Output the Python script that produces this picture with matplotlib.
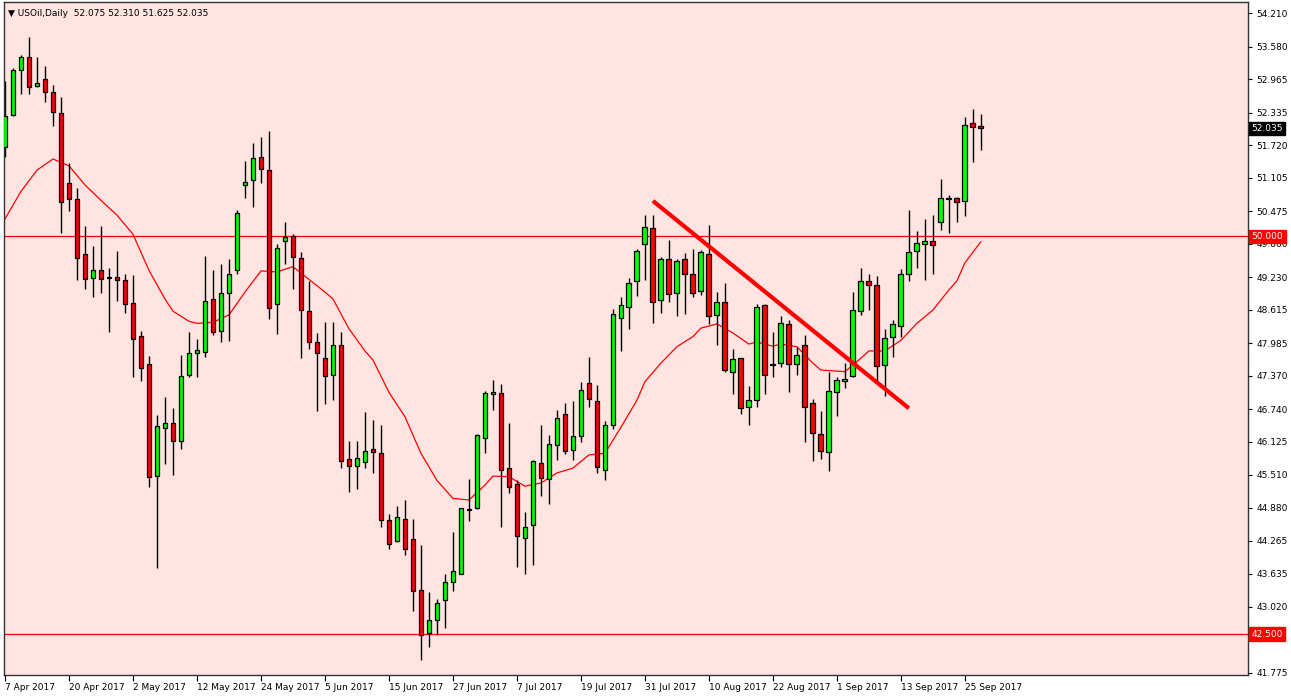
import matplotlib
matplotlib.use("Agg")
import matplotlib.pyplot as plt
import numpy as np

dates = ["7 Apr 2017","20 Apr 2017","2 May 2017","12 May 2017","24 May 2017","5 Jun 2017",
         "15 Jun 2017","27 Jun 2017","7 Jul 2017","19 Jul 2017","31 Jul 2017","10 Aug 2017",
         "22 Aug 2017","1 Sep 2017","13 Sep 2017","25 Sep 2017"]

opens = [51.69,52.29,53.13,53.39,52.83,52.96,52.73,52.32,51.00,50.70,49.66,49.21,49.36,49.23,49.24,49.17,
         48.75,48.13,47.59,45.49,46.38,46.48,46.15,47.38,47.80,47.82,48.82,48.22,48.94,49.37,50.96,51.06,
         51.49,51.26,48.73,49.92,50.01,49.60,48.60,48.01,47.70,47.39,47.96,45.81,45.67,45.75,46.00,45.92,
         44.65,44.25,44.68,44.30,43.34,42.53,42.76,43.14,43.48,43.64,44.85,44.87,46.19,47.02,47.04,45.64,
         45.34,44.32,44.55,45.72,45.42,46.06,46.66,45.98,46.23,47.23,46.89,45.59,46.45,48.47,48.66,49.15,
         49.85,50.15,48.81,49.57,48.94,49.57,49.30,48.98,49.66,48.51,48.76,47.45,47.70,46.79,46.91,48.70,
         47.57,47.62,48.34,47.60,47.96,46.85,46.28,45.93,47.06,47.27,47.36,48.59,49.15,49.08,47.57,48.10,
         48.32,49.30,49.72,49.85,49.91,50.28,50.71,50.72,50.66,52.13,52.075]
highs = [52.93,53.17,53.43,53.76,53.38,53.21,52.85,52.63,51.38,50.91,50.19,49.82,50.19,49.41,49.73,49.29,
         49.27,48.21,47.74,46.64,46.97,46.76,47.76,48.19,48.06,49.64,49.36,49.48,49.58,50.49,51.42,51.77,
         51.87,51.99,49.85,50.27,50.05,49.70,49.16,48.18,48.39,48.38,48.20,46.15,46.15,46.68,46.54,46.44,
         44.77,44.91,45.03,44.67,44.18,43.29,43.17,43.63,44.42,44.88,45.42,46.28,47.08,47.30,47.21,46.49,
         45.40,44.81,45.79,46.45,46.25,46.72,46.85,46.89,47.25,47.73,47.19,46.51,48.64,48.85,49.21,49.77,
         50.40,50.41,49.62,49.94,49.58,49.68,49.77,49.74,50.21,48.96,49.13,47.87,47.71,47.17,48.72,48.72,
         48.19,48.49,48.42,47.91,48.15,46.94,46.70,47.45,47.34,47.62,48.96,49.40,49.30,49.25,48.25,48.42,
         49.38,50.49,50.11,50.32,50.41,51.09,50.79,50.75,52.26,52.41,52.310]
lows = [51.49,52.27,52.68,52.68,52.81,52.54,52.09,50.07,50.48,49.18,49.01,48.86,48.94,48.20,48.79,48.56,
        47.34,47.28,45.28,43.74,45.71,45.51,46.00,47.34,47.34,47.73,48.15,48.00,48.03,49.29,50.73,50.55,
        51.01,48.44,48.16,49.48,49.01,47.71,47.88,46.71,46.84,46.91,45.64,45.18,45.23,45.64,45.53,44.52,
        44.10,44.24,44.00,42.93,42.02,42.25,42.49,42.61,43.31,43.63,44.64,44.86,45.91,46.72,44.52,45.17,
        43.76,43.63,43.81,45.10,44.96,45.78,45.89,45.79,46.12,46.79,45.53,45.40,46.36,47.84,48.25,48.87,
        49.17,48.36,48.55,48.77,48.49,48.53,48.85,48.89,48.34,47.96,47.44,47.02,46.66,46.45,46.78,47.02,
        47.34,47.53,47.06,47.38,46.13,45.76,45.81,45.57,46.62,47.15,47.34,48.51,48.62,47.27,47.00,47.72,
        48.11,49.15,49.40,49.17,49.30,50.13,50.07,50.28,50.38,51.41,51.625]
closes = [52.27,53.13,53.39,52.81,52.89,52.73,52.34,50.64,50.70,49.59,49.19,49.36,49.19,49.22,49.17,48.72,
          48.06,47.51,45.47,46.43,46.48,46.15,47.36,47.81,47.85,48.79,48.20,48.94,49.30,50.44,51.03,51.47,
          51.28,48.65,49.79,49.98,49.61,48.62,48.01,47.80,47.37,47.96,45.77,45.67,45.82,45.96,45.94,44.65,
          44.20,44.70,44.10,43.32,42.49,42.76,43.08,43.48,43.70,44.87,44.84,46.25,47.04,47.06,45.59,45.27,
          44.36,44.53,45.76,45.44,46.08,46.57,45.96,46.23,47.10,46.93,45.66,46.45,48.53,48.70,49.13,49.72,
          50.17,48.76,49.58,48.91,49.53,49.30,48.94,49.70,48.49,48.76,47.49,47.68,46.76,46.91,48.66,47.38,
          47.60,48.36,47.60,47.77,46.79,46.30,45.95,47.08,47.30,47.32,48.62,49.15,49.09,47.55,48.08,48.34,
          49.30,49.70,49.87,49.91,49.83,50.72,50.70,50.64,52.11,52.07,52.035]

ma_idx = [0,2,4,6,8,10,12,14,16,18,20,21,23,24,26,28,30,32,34,36,38,40,41,43,45,46,48,50,52,54,56,58,
          60,61,63,65,67,69,71,73,75,77,79,80,82,84,86,87,89,91,93,94,96,97,99,101,102,105,106,108,110,
          112,114,116,118,119,120,122]
ma_val = [50.33,50.85,51.25,51.46,51.33,50.97,50.68,50.40,50.04,49.36,48.82,48.59,48.40,48.36,48.38,48.52,
          48.95,49.35,49.33,49.43,49.19,48.95,48.82,48.26,47.84,47.67,47.06,46.60,45.91,45.40,45.06,45.03,
          45.31,45.48,45.47,45.29,45.35,45.54,45.63,45.88,45.91,46.40,46.91,47.26,47.61,47.92,48.11,48.27,
          48.35,48.18,47.97,48.01,47.93,47.97,47.92,47.61,47.48,47.45,47.57,47.84,47.84,48.04,48.36,48.61,
          48.99,49.16,49.50,49.90]

trend_idx = [81, 113]
trend_val = [50.67, 46.76]
levels = [50.000, 42.500]
yticks = [54.210,53.580,52.965,52.335,51.720,51.105,50.475,49.860,49.230,48.615,47.985,47.370,
          46.740,46.125,45.510,44.880,44.265,43.635,43.020,41.775]
last_price = 52.035

W, H = 1291, 698
fig = plt.figure(figsize=(W/100, H/100), dpi=100)
fig.patch.set_facecolor("white")
ax = fig.add_axes([4/W, 23/H, (1248-4)/W, (675-2)/H])
ax.set_facecolor("#FFE4E1")
ax.set_xlim(-0.125, 155.4)
ax.set_ylim(41.73, 54.42)

o = np.array(opens); c = np.array(closes); h = np.array(highs); l = np.array(lows)
x = np.arange(len(o))
ax.vlines(x, l, h, color="black", lw=1, zorder=2)
up = c >= o
bot = np.minimum(o, c); ht = np.abs(c - o)
ht = np.where(ht < 0.02, 0.02, ht)
ax.bar(x[up], ht[up], bottom=bot[up], width=0.6, color="#00FF00", edgecolor="black", lw=0.9, zorder=3)
ax.bar(x[~up], ht[~up], bottom=bot[~up], width=0.6, color="#FF0000", edgecolor="black", lw=0.9, zorder=3)

ax.plot(ma_idx, ma_val, color="red", lw=0.9, zorder=1)
for lv in levels:
    ax.axhline(lv, color="red", lw=0.9, zorder=1)
ax.plot(trend_idx, trend_val, color="red", lw=3, solid_capstyle="butt", zorder=4)

ax.yaxis.tick_right()
ax.set_yticks(yticks)
ax.set_yticklabels([f"{v:.3f}" for v in yticks], fontsize=6.5, family="DejaVu Sans")
ax.tick_params(axis="y", length=3, pad=3)
ax.set_xticks(np.arange(0, 8*len(dates), 8))
ax.set_xticklabels(dates, fontsize=6.5, ha="left")
ax.tick_params(axis="x", length=4, pad=2)
for s in ax.spines.values():
    s.set_color("#333333"); s.set_linewidth(1)

def tag(v, bg):
    ax.text(1.003, v, f"{v:.3f}", transform=ax.get_yaxis_transform(), fontsize=6.5, color="white",
            va="center", ha="left", bbox=dict(boxstyle="square,pad=0.25", fc=bg, ec=bg), zorder=10, clip_on=False)
tag(50.000, "red"); tag(42.500, "red"); tag(last_price, "black")

ax.text(0.003, 0.99, "\u25BC USOil,Daily  52.075 52.310 51.625 52.035", transform=ax.transAxes,
        fontsize=6.5, va="top", ha="left")
fig.savefig("out.png", dpi=100, facecolor="white")
